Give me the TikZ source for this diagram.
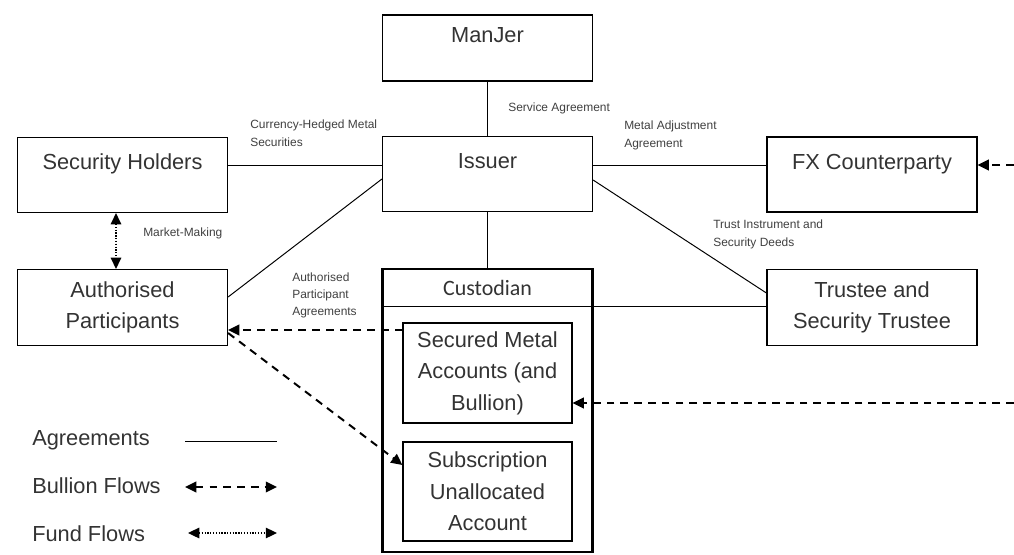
\documentclass[tikz,border=0pt]{standalone}
\usepackage{fontspec}
\setmainfont{Liberation Sans}
\newfontfamily\custfont{Carlito}
\usetikzlibrary{arrows.meta}
\usetikzlibrary{positioning}

\begin{document}
\begin{tikzpicture}[x=0.025cm, y=-0.025cm,
	box/.style={draw, line width=0.8pt, minimum width=5.25cm, minimum height=1.9cm, inner sep=0pt, align=center, text=black!80, font=\fontsize{15.5}{22.5}\selectfont},
	topbox/.style={box, minimum height=1.875cm, text height=11.1pt, text depth=18.5pt},
	inbox/.style={box, minimum width=4.225cm, minimum height=2.5cm},
	lbl/.style={anchor=north west, inner sep=0pt, align=left, text=black!75, font=\fontsize{8.5}{12.3}\selectfont},
	legtext/.style={anchor=base west, inner sep=0pt, text=black!80, font=\fontsize{15.5}{18}\selectfont},
	agree/.style={line width=0.7pt},
	bullion/.style={line width=1.4pt, dash pattern=on 5.5pt off 4.3pt, -{Triangle[length=8pt,width=7.5pt]}},
	fund/.style={line width=0.9pt, dash pattern=on 0.9pt off 1.1pt, {Triangle[length=8pt,width=7.5pt]}-{Triangle[length=8pt,width=7.5pt]}}]
	\useasboundingbox (0,0) rectangle (1014,554);	% page size

	% top row
	\node[topbox, minimum height=1.65cm] (manjer) at (487.5,48) {ManJer};
	\node[topbox] (secholders) at (122.5,175) {Security Holders};
	\node[topbox] (issuer) at (487.5,174) {Issuer};
	\node[topbox] (fx) at (872,174.5) {FX Counterparty};

	% second row
	\node[box] (ap) at (122.5,307.5) {Authorised\\Participants};
	\node[box] (trustee) at (872,307.5) {Trustee and\\Security Trustee};

	% custodian and its accounts
	\node[draw, line width=1.8pt, minimum width=5.25cm, minimum height=7.075cm] (custodian) at (487.5,410.5) {};
	\node[text=black!80, font=\custfont\fontsize{15.6}{18}\selectfont] (custlabel) at (487.5,288) {Custodian};
	\node[inbox] (secured) at (487.5,373) {Secured Metal\\Accounts (and\\Bullion)};
	\node[inbox, minimum height=2.475cm] (subscription) at (487.5,491.5) {Subscription\\Unallocated\\Account};

	% agreement labels
	\node[lbl] (lblchms) at (250,120) {Currency-Hedged Metal\\Securities};
	\node[lbl] (lblservice) at (508,103) {Service Agreement};
	\node[lbl] (lblmetal) at (624,121) {Metal Adjustment\\Agreement};
	\node[lbl] (lbltrust) at (713,220) {Trust Instrument and\\Security Deeds};
	\node[lbl] (lblmarket) at (143,228) {Market-Making};
	\node[lbl, font=\fontsize{8.5}{11.9}\selectfont] (lblapa) at (292,273) {Authorised\\Participant\\Agreements};

	% agreements
	\draw[agree] (manjer.south) -- (issuer.north);
	\draw[agree] (secholders.east |- 0,165) -- (issuer.west |- 0,165);
	\draw[agree] (issuer.east |- 0,165) -- (fx.west |- 0,165);
	\draw[agree] (issuer.west |- 0,179) -- (ap.east |- 0,297);
	\draw[agree] (issuer.east |- 0,180) -- (trustee.west |- 0,293);
	\draw[agree] (issuer.south) -- (custodian.north);
	\draw[agree] (custodian.west |- 0,306) -- (trustee.west |- 0,306);	% custodian header line

	% bullion flows
	\coordinate (fxin) at (1014,165);
	\coordinate (securedin) at (1014,403);
	\draw[bullion] (secured.west |- 0,330) -- (ap.east |- 0,330);
	\draw[bullion] (ap.east |- 0,333) -- (subscription.west |- 0,465);
	\draw[bullion] (fxin) -- (fx.east |- fxin);
	\draw[bullion] (securedin) -- (secured.east |- securedin);

	% fund flows
	\draw[fund] (secholders.south -| 116,0) -- (ap.north -| 116,0);

	% legend
	\node[legtext] (legagree) at (32,445) {Agreements};
	\node[legtext] (legbullion) at (32,493) {Bullion Flows};
	\node[legtext] (legfund) at (32,541) {Fund Flows};
	\coordinate (agreeA) at (185,441);
	\coordinate (agreeB) at (277,441);
	\coordinate (bullionA) at (185,487);
	\coordinate (bullionB) at (277,487);
	\coordinate (fundA) at (188,533);
	\coordinate (fundB) at (277,533);
	\draw[agree] (agreeA) -- (agreeB);
	\draw[bullion, {Triangle[length=8pt,width=7.5pt]}-{Triangle[length=8pt,width=7.5pt]}] (bullionA) -- (bullionB);
	\draw[fund] (fundA) -- (fundB);
\end{tikzpicture}
\end{document}
